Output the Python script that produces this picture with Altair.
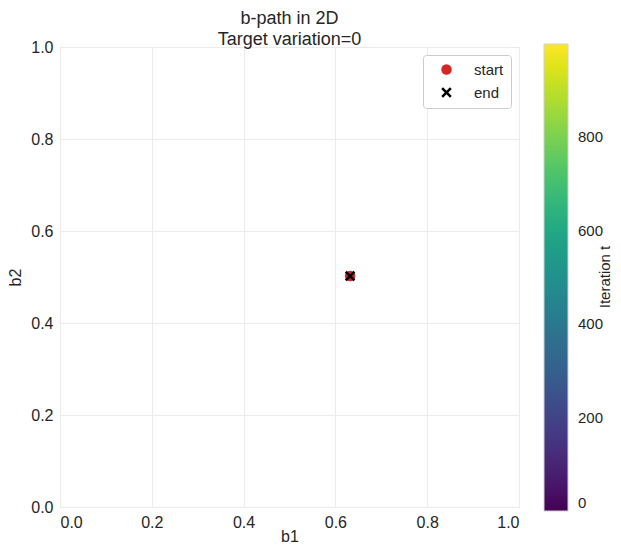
import altair as alt
import pandas as pd

# path of b over iterations (stays at one point)
iterations = [0, 250, 500, 750, 999]
b1_path = [0.632, 0.632, 0.632, 0.632, 0.632]
b2_path = [0.502, 0.502, 0.502, 0.502, 0.502]

marker_names = ["start", "end"]
marker_b1 = [0.632, 0.632]
marker_b2 = [0.502, 0.502]

path_df = pd.DataFrame({"iter": iterations, "b1": b1_path, "b2": b2_path})
mark_df = pd.DataFrame({"marker": marker_names, "b1": marker_b1, "b2": marker_b2})

FONT = "Liberation Sans"
TXT = "#262626"
X_PATH = ("M-1,-0.65 L-0.65,-1 L0,-0.35 L0.65,-1 L1,-0.65 L0.35,0 L1,0.65 "
          "L0.65,1 L0,0.35 L-0.65,1 L-1,0.65 L-0.35,0 Z")

xs = alt.X("b1:Q", title="b1", scale=alt.Scale(domain=[0, 1], nice=False),
           axis=alt.Axis(values=[0, 0.2, 0.4, 0.6, 0.8, 1.0], format=".1f",
                         titleY=34, titleBaseline="alphabetic"))
ys = alt.Y("b2:Q", title="b2", scale=alt.Scale(domain=[0, 1], nice=False),
           axis=alt.Axis(values=[0, 0.2, 0.4, 0.6, 0.8, 1.0], format=".1f"))

path = alt.Chart(path_df).mark_circle(size=60, opacity=1).encode(
    x=xs, y=ys,
    color=alt.Color("iter:Q", scale=alt.Scale(scheme="viridis", domain=[0, 999], nice=False),
                    legend=alt.Legend(title=None, orient="none", legendX=484, legendY=-3,
                                      direction="vertical", gradientLength=467,
                                      gradientThickness=24, values=[0, 200, 400, 600, 800],
                                      labelFontSize=15, labelFont=FONT, labelColor=TXT,
                                      gradientStrokeColor="#d0d0d0", gradientStrokeWidth=1,
                                      labelOffset=10)),
)

sym_legend = alt.Legend(title=None, orient="top-right", offset=8,
                        labelFontSize=15, labelFont=FONT, labelColor=TXT,
                        strokeColor="#cccccc", fillColor="white", cornerRadius=3,
                        padding=7, rowPadding=7, symbolSize=110, symbolOffset=9,
                        labelOffset=20)

markers = alt.Chart(mark_df).mark_point(filled=True, opacity=1, size=110).encode(
    x=xs, y=ys,
    color=alt.Color("marker:N", scale=alt.Scale(domain=marker_names, range=["#d62728", "#000000"]),
                    legend=sym_legend),
    shape=alt.Shape("marker:N", scale=alt.Scale(domain=marker_names, range=["circle", X_PATH]),
                    legend=sym_legend),
)

label = alt.Chart(pd.DataFrame({"t": ["Iteration t"]})).mark_text(
    angle=270, fontSize=15, font=FONT, color=TXT, baseline="middle", align="center"
).encode(text="t:N", x=alt.value(545), y=alt.value(230))

chart = alt.layer(path, markers, label).resolve_scale(
    color="independent", shape="independent"
).properties(
    width=459, height=460,
    autosize=alt.AutoSizeParams(type="none"),
    padding={"left": 52, "top": 39, "right": 94, "bottom": 38},
    title=alt.Title(["b-path in 2D", "Target variation=0"], fontSize=18, font=FONT,
                    fontWeight="normal", color=TXT, anchor="middle", offset=6,
                    lineHeight=21, dy=16),
).configure_view(stroke="#cccccc", strokeWidth=1).configure_axis(
    grid=True, gridColor="#ebebeb", domain=False, ticks=False,
    labelFont=FONT, labelFontSize=16, labelColor=TXT, labelPadding=7,
    titleFont=FONT, titleFontSize=16, titleColor=TXT, titleFontWeight="normal",
).configure_axisY(titlePadding=7)

chart.save("out.html", embed_options={"renderer": "svg", "actions": False})
